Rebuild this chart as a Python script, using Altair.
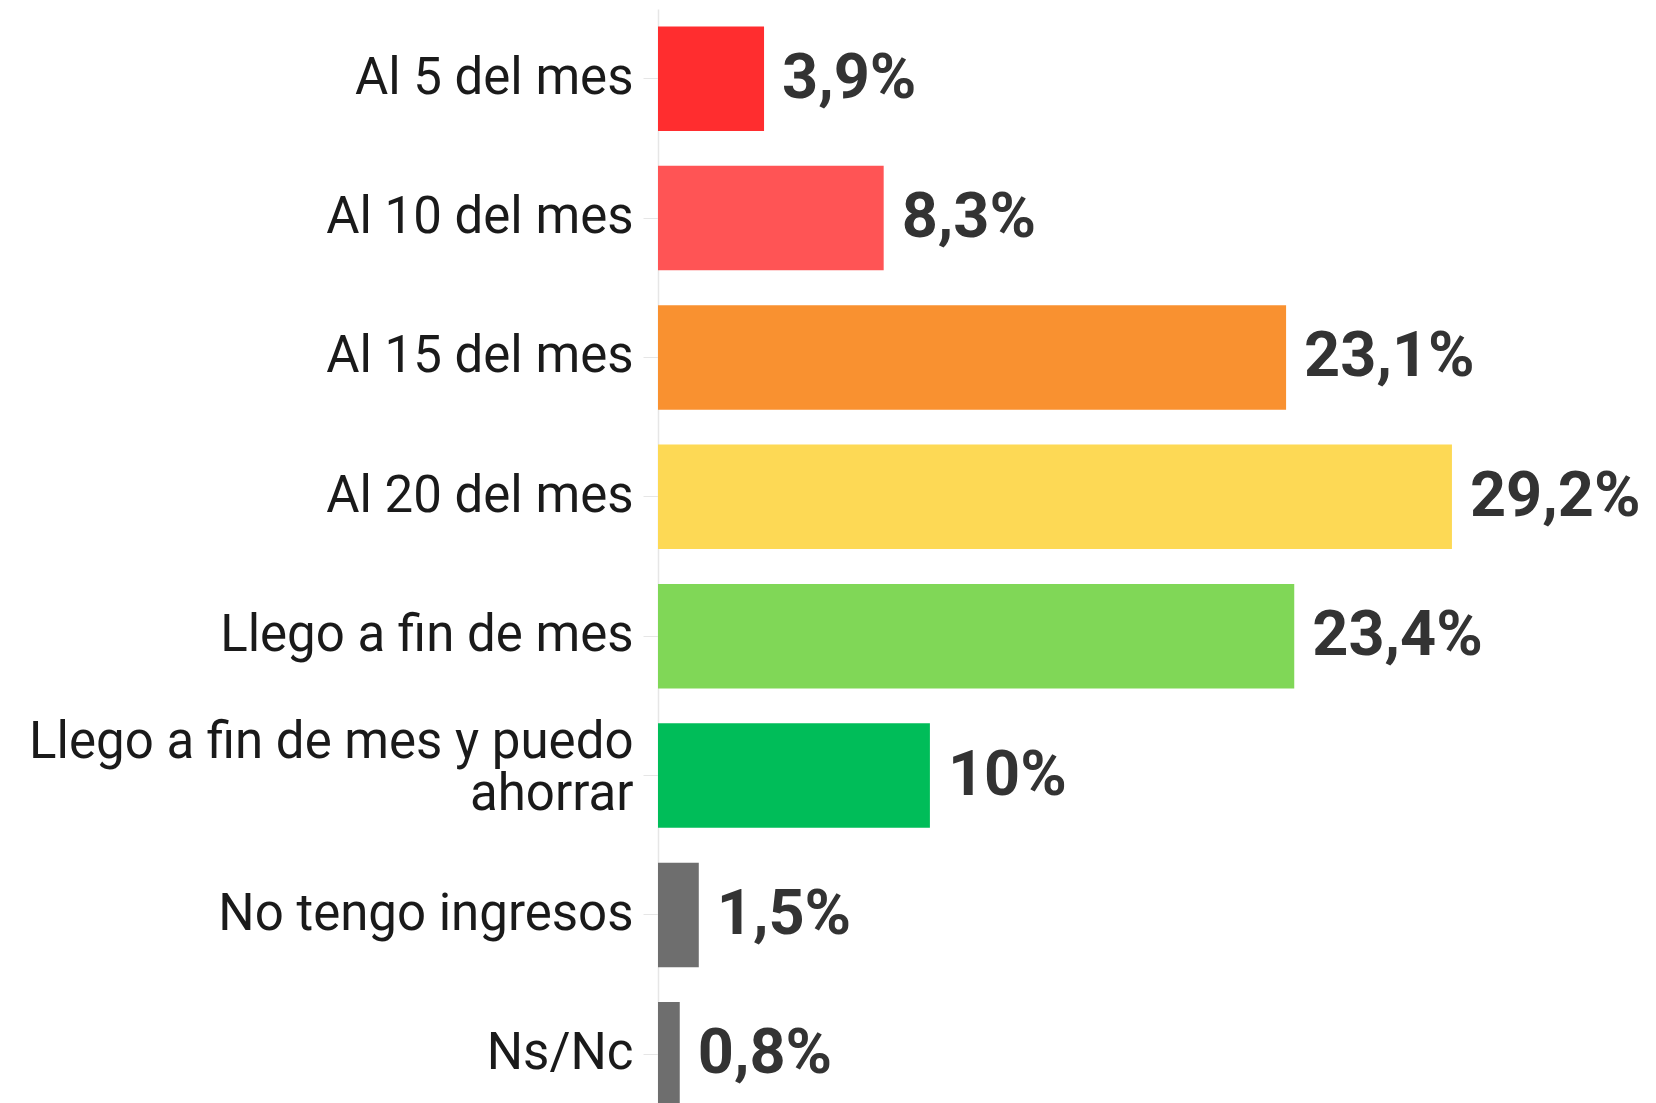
import altair as alt
import pandas as pd

categories = [
    "Al 5 del mes",
    "Al 10 del mes",
    "Al 15 del mes",
    "Al 20 del mes",
    "Llego a fin de mes",
    "Llego a fin de mes y puedo ahorrar",
    "No tengo ingresos",
    "Ns/Nc",
]
values = [3.9, 8.3, 23.1, 29.2, 23.4, 10, 1.5, 0.8]
colors = ["#FF2D2F", "#FF5455", "#F99130", "#FDD955", "#80D757", "#00BD59", "#6E6E6E", "#6E6E6E"]


def fmt(v):
    return f"{v:g}".replace(".", ",") + "%"


df = pd.DataFrame({
    "cat": categories,
    "val": values,
    "color": colors,
    "label": [fmt(v) for v in values],
})

W = 990
H = 1095
LEFT = 650
LONG = "Llego a fin de mes y puedo ahorrar"

y = alt.Y(
    "cat:N",
    sort=categories,
    scale=alt.Scale(range=[1, 1116], paddingInner=0.25, paddingOuter=0.125),
    axis=alt.Axis(
        title=None,
        labelFont="Roboto",
        labelFontSize=51,
        labelColor="#1a1a1a",
        labelLimit=700,
        labelPadding=10,
        labelLineHeight=52,
        labelOffset={"condition": {"test": f"datum.value == '{LONG}'", "value": -33}, "value": 0},
        tickSize=15,
        tickColor="#e6e6e6",
        domainColor="#e6e6e6",
        domainWidth=1.5,
        grid=False,
        labelExpr=f"datum.value == '{LONG}' ? ['Llego a fin de mes y puedo', 'ahorrar'] : datum.value",
    ),
)
x = alt.X("val:Q", scale=alt.Scale(domain=[0, W / 27.19], nice=False, zero=True), axis=None)

base = alt.Chart(df)
bars = base.mark_bar().encode(x=x, y=y, color=alt.Color("color:N", scale=None))
text = base.mark_text(
    align="left", baseline="middle", dx=18, font="Roboto", fontSize=63,
    fontWeight="bold", color="#333333"
).encode(x=x, y=y, text="label:N")

chart = (bars + text).properties(
    width=W,
    height=H,
    background="white",
    autosize=alt.AutoSizeParams(type="none"),
    padding={"left": LEFT, "top": 0, "right": 0, "bottom": 0},
).configure_view(stroke=None)

chart.save("out.html", embed_options={"renderer": "svg", "actions": False})
